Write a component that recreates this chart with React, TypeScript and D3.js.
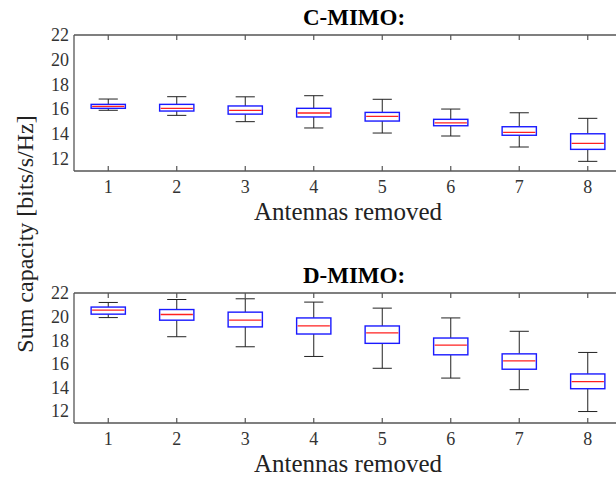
import React, { useEffect, useRef } from 'react'
import * as d3 from 'd3'

const antennas = [1, 2, 3, 4, 5, 6, 7, 8]
const yTicks = [12, 14, 16, 18, 20, 22]

// C-MIMO boxes
const cUpper = [16.82, 17.01, 17.0, 17.09, 16.8, 16.01, 15.71, 15.26]
const cQ3 = [16.39, 16.39, 16.26, 16.07, 15.74, 15.18, 14.58, 14.01]
const cMedian = [16.23, 16.07, 15.9, 15.69, 15.42, 14.9, 14.13, 13.24]
const cQ1 = [16.07, 15.85, 15.6, 15.37, 15.04, 14.66, 13.89, 12.75]
const cLower = [15.91, 15.5, 14.99, 14.48, 14.07, 13.83, 12.94, 11.78]

// D-MIMO boxes
const dUpper = [21.2, 21.45, 21.51, 21.23, 20.72, 19.89, 18.76, 16.97]
const dQ3 = [20.81, 20.6, 20.38, 19.89, 19.21, 18.19, 16.85, 15.15]
const dMedian = [20.55, 20.18, 19.7, 19.21, 18.62, 17.59, 16.25, 14.5]
const dQ1 = [20.21, 19.7, 19.13, 18.53, 17.74, 16.77, 15.55, 13.9]
const dLower = [19.92, 18.3, 17.45, 16.63, 15.63, 14.8, 13.82, 11.97]

export default function App() {
    const ref = useRef<SVGSVGElement>(null)

    let width = 616, height = 478
    let left = 74, right = 622
    let serif = '"Liberation Serif", "Times New Roman", serif'
    let axisColor = '#555'

    function panel(svg: any, title: string, top: number, bottom: number,
        upper: number[], q3: number[], median: number[], q1: number[], lower: number[]) {

        var x = d3.scaleLinear().domain([0.5, 8.5]).range([left, right])
        var y = d3.scaleLinear().domain([11, 22]).range([bottom, top])
        let boxW = 0.5, capW = 0.28

        var g = svg.append('g')

        // box frame
        g.append('line').attr('x1', left).attr('x2', right).attr('y1', top).attr('y2', top)
            .attr('stroke', axisColor).attr('stroke-width', 1.3)
        g.append('line').attr('x1', left).attr('x2', right).attr('y1', bottom).attr('y2', bottom)
            .attr('stroke', axisColor).attr('stroke-width', 1.3)
        g.append('line').attr('x1', left).attr('x2', left).attr('y1', top).attr('y2', bottom)
            .attr('stroke', axisColor).attr('stroke-width', 1.3)

        // x ticks, inward on top and bottom
        antennas.forEach(function (a) {
            g.append('line').attr('x1', x(a)).attr('x2', x(a)).attr('y1', bottom).attr('y2', bottom - 5)
                .attr('stroke', axisColor).attr('stroke-width', 1.2)
            g.append('line').attr('x1', x(a)).attr('x2', x(a)).attr('y1', top).attr('y2', top + 5)
                .attr('stroke', axisColor).attr('stroke-width', 1.2)
            g.append('text').attr('x', x(a)).attr('y', bottom + 22)
                .attr('text-anchor', 'middle').style('font-family', serif).style('font-size', '18px')
                .attr('fill', '#333').text(a)
        })

        yTicks.forEach(function (t) {
            g.append('text').attr('x', left - 5).attr('y', y(t)).attr('dy', '0.35em')
                .attr('text-anchor', 'end').style('font-family', serif).style('font-size', '18px')
                .attr('fill', '#333').text(t)
        })

        // whiskers
        antennas.forEach(function (a, i) {
            let w = g.append('g').attr('stroke', '#222').attr('stroke-width', 1)
            w.append('line').attr('x1', x(a)).attr('x2', x(a)).attr('y1', y(q3[i])).attr('y2', y(upper[i]))
            w.append('line').attr('x1', x(a)).attr('x2', x(a)).attr('y1', y(q1[i])).attr('y2', y(lower[i]))
            w.append('line').attr('x1', x(a - capW / 2)).attr('x2', x(a + capW / 2)).attr('y1', y(upper[i])).attr('y2', y(upper[i]))
            w.append('line').attr('x1', x(a - capW / 2)).attr('x2', x(a + capW / 2)).attr('y1', y(lower[i])).attr('y2', y(lower[i]))
        })

        g.selectAll('rect.box')
            .data(antennas)
            .enter()
            .append('rect')
            .attr('x', function (a: number) { return x(a - boxW / 2) })
            .attr('width', x(1 + boxW) - x(1))
            .attr('y', function (a: number, i: number) { return y(q3[i]) })
            .attr('height', function (a: number, i: number) { return y(q1[i]) - y(q3[i]) })
            .attr('fill', 'white')
            .attr('stroke', '#1a1aff')
            .attr('stroke-width', 1.4)

        g.selectAll('line.med')
            .data(antennas)
            .enter()
            .append('line')
            .attr('x1', function (a: number) { return x(a - boxW / 2) + 1 })
            .attr('x2', function (a: number) { return x(a + boxW / 2) - 1 })
            .attr('y1', function (a: number, i: number) { return y(median[i]) })
            .attr('y2', function (a: number, i: number) { return y(median[i]) })
            .attr('stroke', '#ff2020')
            .attr('stroke-width', 1.3)

        g.append('text').attr('x', 354).attr('y', top - 10).attr('text-anchor', 'middle')
            .style('font-family', serif).style('font-size', '23px').style('font-weight', 'bold')
            .text(title)

        g.append('text').attr('x', 348).attr('y', bottom + 49).attr('text-anchor', 'middle')
            .style('font-family', serif).style('font-size', '25px').attr('fill', '#222')
            .text('Antennas removed')
    }

    useEffect(() => {
        var svg = d3.select(ref.current)
        svg.selectAll('*').remove()

        panel(svg, 'C-MIMO:', 35, 171, cUpper, cQ3, cMedian, cQ1, cLower)
        panel(svg, 'D-MIMO:', 293, 423, dUpper, dQ3, dMedian, dQ1, dLower)

        svg.append('text')
            .attr('transform', 'translate(33, 234) rotate(-90)')
            .attr('text-anchor', 'middle')
            .style('font-family', serif).style('font-size', '24px').attr('fill', '#222')
            .text('Sum capacity [bits/s/Hz]')
    }, [])

    return (
        <svg ref={ref} width={width} height={height}
            style={{ position: 'absolute', left: 0, top: 0, background: 'white' }} />
    )
}
